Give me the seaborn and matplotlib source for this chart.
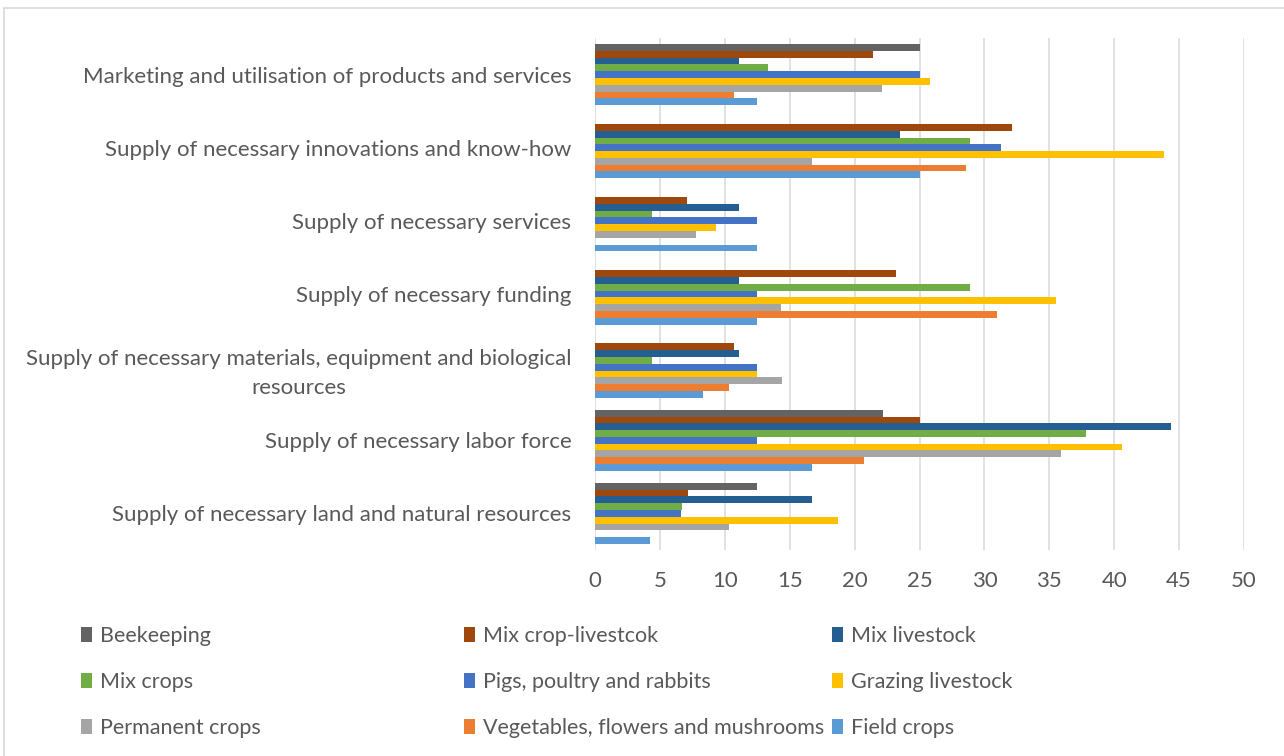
import matplotlib
matplotlib.use("Agg")
import matplotlib.pyplot as plt
from matplotlib.patches import Patch
from matplotlib.lines import Line2D
import seaborn as sns
import pandas as pd

categories = [
    "Marketing and utilisation of products and services",
    "Supply of necessary innovations and know-how",
    "Supply of necessary services",
    "Supply of necessary funding",
    "Supply of necessary materials, equipment and biological\nresources",
    "Supply of necessary labor force",
    "Supply of necessary land and natural resources",
]

series_names = [
    "Beekeeping", "Mix crop-livestcok", "Mix livestock",
    "Mix crops", "Pigs, poultry and rabbits", "Grazing livestock",
    "Permanent crops", "Vegetables, flowers and mushrooms", "Field crops",
]

beekeeping = [25.0, 0, 0, 0, 0, 22.2, 12.5]
mix_crop_livestock = [21.4, 32.1, 7.1, 23.2, 10.7, 25.0, 7.2]
mix_livestock = [11.1, 23.5, 11.1, 11.1, 11.1, 44.4, 16.7]
mix_crops = [13.3, 28.9, 4.4, 28.9, 4.4, 37.8, 6.7]
pigs_poultry_rabbits = [25.0, 31.3, 12.5, 12.5, 12.5, 12.5, 6.6]
grazing_livestock = [25.8, 43.8, 9.3, 35.5, 12.5, 40.6, 18.7]
permanent_crops = [22.1, 16.7, 7.8, 14.3, 14.4, 35.9, 10.3]
vegetables = [10.7, 28.6, 0, 31.0, 10.3, 20.7, 0]
field_crops = [12.5, 25.0, 12.5, 12.5, 8.3, 16.7, 4.2]

colors = ["#636363", "#9E480E", "#255E91", "#70AD47", "#4472C4",
          "#FFC000", "#A5A5A5", "#ED7D31", "#5B9BD5"]

all_series = [beekeeping, mix_crop_livestock, mix_livestock, mix_crops,
              pigs_poultry_rabbits, grazing_livestock, permanent_crops,
              vegetables, field_crops]

rows = []
for name, vals in zip(series_names, all_series):
    for cat, v in zip(categories, vals):
        rows.append({"category": cat, "series": name, "value": v})
df = pd.DataFrame(rows)

sns.set_theme(style="white")
plt.rcParams["font.family"] = ["Lato", "DejaVu Sans"]
text_color = "#595959"
fs = 16

fig = plt.figure(figsize=(12.84, 7.56), dpi=100)
ax = fig.add_axes([595 / 1284, 1 - 550 / 756, (1244 - 595) / 1284, (550 - 38) / 756])

sns.barplot(data=df, x="value", y="category", hue="series", order=categories,
            hue_order=series_names, palette=colors, orient="h", width=0.835,
            saturation=1, linewidth=0, legend=False, ax=ax)

ax.set_xlim(0, 50)
ax.set_ylim(6.5, -0.5)
ax.set_xticks(range(0, 51, 5))
ax.grid(axis="x", color="#D9D9D9", linewidth=1.1)
ax.grid(axis="y", visible=False)
ax.set_axisbelow(True)
for s in ax.spines.values():
    s.set_visible(False)
ax.set_xlabel("")
ax.set_ylabel("")
ax.tick_params(axis="x", length=0, pad=15, labelsize=fs, labelcolor=text_color)
ax.tick_params(axis="y", length=0, pad=17, labelsize=fs, labelcolor=text_color)
for lbl in ax.get_yticklabels():
    lbl.set_multialignment("center")
    lbl.set_linespacing(1.55)

# legend in three columns
col_x = [81 / 1284, 464 / 1284, 832 / 1284]
for c in range(3):
    handles = [Patch(facecolor=colors[c + 3 * r], edgecolor="none") for r in range(3)]
    labels = [series_names[c + 3 * r] for r in range(3)]
    fig.legend(handles, labels, loc="upper left",
               bbox_to_anchor=(col_x[c], 1 - 626 / 756),
               frameon=False, fontsize=15.5, labelcolor=text_color,
               handlelength=0.5, handleheight=0.7, handletextpad=0.4,
               labelspacing=1.2, borderpad=0, borderaxespad=0)

# chart border (Excel style)
fig.add_artist(Line2D([4 / 1284, 4 / 1284], [0, 1 - 8 / 756], transform=fig.transFigure,
                      color="#D9D9D9", linewidth=1.2))
fig.add_artist(Line2D([4 / 1284, 1], [1 - 8 / 756, 1 - 8 / 756], transform=fig.transFigure,
                      color="#D9D9D9", linewidth=1.2))

fig.savefig("out.png", dpi=100, facecolor="white")
